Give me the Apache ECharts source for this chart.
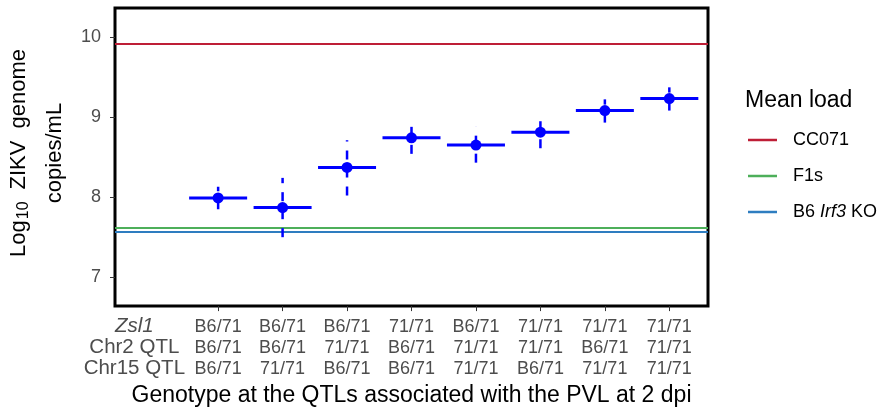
<!DOCTYPE html>
<html><head><meta charset="utf-8">
<script src="https://cdn.jsdelivr.net/npm/echarts@6/dist/echarts.min.js"></script>
<style>html,body{margin:0;padding:0;background:#fff}#c{width:886px;height:412px}</style>
</head><body><div id="c"></div>
<script>
// ---- data ----
const positions = [1, 2, 3, 4, 5, 6, 7, 8];
const zsl1  = ['B6/71','B6/71','B6/71','71/71','B6/71','71/71','71/71','71/71'];
const chr2  = ['B6/71','B6/71','71/71','B6/71','71/71','71/71','B6/71','71/71'];
const chr15 = ['B6/71','71/71','B6/71','B6/71','71/71','B6/71','71/71','71/71'];
const meanLoad = [7.99, 7.87, 8.37, 8.74, 8.65, 8.81, 9.08, 9.23];
const lowerCI  = [7.85, 7.50, 8.02, 8.54, 8.43, 8.61, 8.93, 9.08];
const upperCI  = [8.13, 8.24, 8.71, 8.88, 8.88, 8.95, 9.22, 9.37];
const refNames  = ['CC071', 'F1s', 'B6 Irf3 KO'];
const refValues = [9.92, 7.62, 7.57];
const refColors = ['#BE1E36', '#4DAF5A', '#2E7DC0'];
const yTicks = [7, 8, 9, 10];
const rowHeader = ['Zsl1', 'Chr2 QTL', 'Chr15 QTL'];
const rowHeaderPos = -0.3;

const FONT = 'Liberation Sans, Arial, Helvetica, sans-serif';
const GREY = '#4D4D4D';
const HALF = 0.45;

const chart = echarts.init(document.getElementById('c'), null, {renderer: 'canvas'});

const refSeries = refNames.map((n, i) => ({
  name: n, type: 'line', data: [], color: refColors[i], silent: true, z: 2,
  markLine: {
    symbol: 'none', silent: true, animation: false,
    label: {show: false},
    lineStyle: {color: refColors[i], width: 2, type: 'solid'},
    emphasis: {disabled: true},
    data: [{yAxis: refValues[i]}]
  }
}));

const option = {
  animation: false,
  textStyle: {fontFamily: FONT},
  grid: {left: 115, top: 8, width: 593, height: 301, show: true, borderColor: '#000', borderWidth: 3, backgroundColor: 'transparent', containLabel: false},
  title: {
    text: 'Mean load', left: 745, top: 89, padding: 0,
    textStyle: {fontSize: 23, fontWeight: 'normal', color: '#000', fontFamily: FONT, lineHeight: 24}
  },
  legend: {
    orient: 'vertical', left: 748, top: 131, padding: 0, itemWidth: 29, itemHeight: 2.5, itemGap: 18,
    icon: 'rect', selectedMode: false,
    data: refNames,
    formatter: n => n === 'B6 Irf3 KO' ? '{n|B6 }{i|Irf3}{n| KO}' : '{n|' + n + '}',
    textStyle: {
      padding: [0, 0, 0, 11],
      rich: {
        n: {fontSize: 18, lineHeight: 20, color: '#000', fontFamily: FONT},
        i: {fontSize: 18, lineHeight: 20, color: '#000', fontFamily: FONT, fontStyle: 'italic'}
      }
    }
  },
  xAxis: {
    type: 'value', min: -0.6, max: 8.6,
    axisLine: {show: false, onZero: false},
    splitLine: {show: false},
    axisTick: {show: true, customValues: positions, length: 5, lineStyle: {color: '#333', width: 1}},
    axisLabel: {
      customValues: [rowHeaderPos].concat(positions), margin: 10,
      formatter: v => {
        if (Math.abs(v - rowHeaderPos) < 1e-9) {
          return '{ith|' + rowHeader[0] + '}\n{h|' + rowHeader[1] + '}\n{h|' + rowHeader[2] + '}';
        }
        const i = positions.indexOf(v);
        return '{g|' + zsl1[i] + '}\n{g|' + chr2[i] + '}\n{g|' + chr15[i] + '}';
      },
      rich: {
        g: {fontSize: 18, lineHeight: 21, color: GREY, fontFamily: FONT},
        h: {fontSize: 20.5, lineHeight: 21, color: GREY, fontFamily: FONT},
        ith: {fontSize: 20.5, lineHeight: 21, color: GREY, fontFamily: FONT, fontStyle: 'italic'}
      }
    },
    name: 'Genotype at the QTLs associated with the PVL at 2 dpi',
    nameLocation: 'middle', nameGap: 72,
    nameTextStyle: {fontSize: 23, color: '#000', fontFamily: FONT}
  },
  yAxis: {
    type: 'value', min: 6.64, max: 10.36,
    axisLine: {show: false, onZero: false},
    splitLine: {show: false},
    axisTick: {show: true, customValues: yTicks, length: 5, lineStyle: {color: '#333', width: 1}},
    axisLabel: {customValues: yTicks, margin: 14, fontSize: 18, color: GREY, fontFamily: FONT}
  },
  graphic: [{
    type: 'text', x: 37, y: 153, rotation: Math.PI / 2, silent: true,
    style: {
      text: '{a|Log}{s|10}{b|ZIKV}{b|genome}\n{a|copies/mL}',
      align: 'center', verticalAlign: 'middle',
      rich: {
        a: {fontSize: 22, lineHeight: 36, fill: '#000', fontFamily: FONT},
        b: {fontSize: 22, lineHeight: 36, fill: '#000', fontFamily: FONT, padding: [0, 0, 0, 12]},
        s: {fontSize: 16, lineHeight: 36, fill: '#000', fontFamily: FONT, padding: [10, 0, 0, 1]}
      }
    }
  }],
  series: refSeries.concat([
    {
      name: 'ci', type: 'custom', z: 5, silent: true,
      encode: {x: 0, y: [1, 2, 3]},
      data: positions.map((p, i) => [p, meanLoad[i], lowerCI[i], upperCI[i]]),
      renderItem: (params, api) => {
        const x = api.value(0), m = api.value(1), lo = api.value(2), hi = api.value(3);
        const pLo = api.coord([x, lo]), pHi = api.coord([x, hi]);
        const pL = api.coord([x - HALF, m]), pR = api.coord([x + HALF, m]);
        return {
          type: 'group',
          children: [
            {type: 'line', shape: {x1: pLo[0], y1: pLo[1], x2: pHi[0], y2: pHi[1]},
             style: {stroke: '#0000FF', lineWidth: 2.5, lineDash: [9, 9]}},
            {type: 'line', shape: {x1: pL[0], y1: pL[1], x2: pR[0], y2: pR[1]},
             style: {stroke: '#0000FF', lineWidth: 3}}
          ]
        };
      }
    },
    {
      name: 'mean', type: 'scatter', z: 6, silent: true,
      symbol: 'circle', symbolSize: 11,
      itemStyle: {color: '#0000FF', opacity: 1},
      data: positions.map((p, i) => [p, meanLoad[i]])
    }
  ])
};
chart.setOption(option);
</script>
</body></html>
